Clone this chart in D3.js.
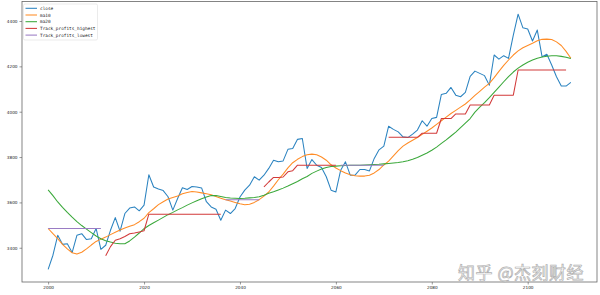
<!DOCTYPE html>
<html><head><meta charset="utf-8">
<script src="https://cdn.jsdelivr.net/npm/d3@7"></script>
<style>body{margin:0;background:#fff}</style>
</head><body><svg id="c" width="600" height="295"></svg>
<script>
const N = null;
const xStart = 2000;
const close = [3305,3367,3455,3415,3418,3379,3455,3462,3436,3440,
 3485,3393,3411,3477,3533,3473,3551,3575,3580,3563,
 3588,3722,3668,3659,3652,3625,3566,3617,3665,3657,
 3670,3668,3664,3603,3580,3570,3521,3566,3551,3573,
 3624,3654,3676,3713,3698,3720,3750,3786,3779,3783,
 3834,3838,3878,3882,3750,3789,3764,3754,3713,3654,
 3646,3742,3779,3720,3720,3745,3745,3739,3794,3832,
 3848,3936,3922,3911,3889,3886,3901,3919,3960,3936,
 3970,3975,4076,4081,4107,4073,4066,4085,4156,4179,
 4169,4159,4117,4250,4232,4247,4235,4338,4430,4370,
 4365,4312,4360,4242,4253,4206,4154,4113,4113,4129];
const ma10 = [3485,3462,3440,3415,3395,3378,3372,3380,3395,3412,
 3428,3438,3447,3458,3468,3478,3487,3495,3502,3515,
 3530,3555,3572,3590,3603,3615,3622,3628,3638,3644,
 3648,3646,3642,3638,3634,3626,3618,3612,3606,3600,
 3594,3590,3592,3600,3612,3628,3646,3672,3700,3725,
 3752,3775,3790,3802,3810,3813,3810,3800,3786,3766,
 3752,3740,3730,3722,3718,3716,3716,3720,3730,3745,
 3765,3782,3805,3828,3848,3862,3874,3886,3900,3914,
 3928,3944,3960,3976,3992,4006,4020,4034,4052,4072,
 4090,4108,4125,4150,4178,4204,4228,4250,4268,4282,
 4292,4302,4313,4319,4320,4318,4308,4292,4266,4236];
const ma20 = [3655,3630,3602,3578,3556,3535,3515,3498,3482,3467,
 3452,3440,3431,3425,3420,3418,3418,3430,3447,3465,
 3484,3498,3510,3522,3534,3546,3556,3567,3577,3588,
 3598,3607,3616,3624,3630,3630,3626,3622,3619,3618,
 3617,3618,3620,3622,3625,3632,3640,3647,3655,3663,
 3672,3682,3692,3704,3714,3728,3738,3747,3754,3758,
 3760,3762,3763,3764,3764,3764,3765,3766,3767,3768,
 3770,3772,3774,3776,3779,3784,3790,3798,3808,3818,
 3830,3844,3860,3876,3893,3910,3930,3950,3970,3998,
 4020,4040,4062,4085,4108,4132,4155,4175,4192,4206,
 4218,4228,4236,4241,4245,4247,4247,4244,4240,4235];
const trackHighest = [N,N,N,N,N,N,N,N,N,N,
 N,N,3365,3405,3433,3440,3450,3462,3465,3470,
 3475,3548,3548,3548,3548,3548,3548,3548,3548,3548,
 3548,3548,3548,3548,3548,3548,3548,N,N,N,
 N,N,N,N,N,3668,3690,3710,3710,3712,
 3735,3740,3764,3764,3764,3764,3764,3764,3764,3764,
 3764,N,N,N,N,N,N,N,N,N,
 N,3887,3887,3887,3887,3887,3887,3887,3905,3905,
 3905,3905,3970,3970,3970,3990,3990,3990,4030,4030,
 4030,4030,4030,4073,4073,4073,4073,4073,4184,4184,
 4184,4184,4184,4184,4184,4184,4184,4184,4184,N];
const trackLowest = [3485,3485,3485,3485,3485,3485,3485,3485,3485,3485,
 3485,3485,N,N,N,N,N,N,N,N,
 N,N,N,N,N,N,N,N,N,N,
 N,N,N,N,N,N,N,3612,3612,3612,
 3612,3612,3612,3612,3612,N,N,N,N,N,
 N,N,N,N,N,N,N,N,N,N,
 N,3764,3764,3764,3764,3764,3764,3764,3764,3764,
 3764,N,N,N,N,N,N,N,N,N,
 N,N,N,N,N,N,N,N,N,N,
 N,N,N,N,N,N,N,N,N,N,
 N,N,N,N,N,N,N,N,N,N];
const xTicks = [2000,2020,2040,2060,2080,2100];
const yTicks = [3400,3600,3800,4000,4200,4400];
const seriesNames = ["close","ma10","ma20","Track_profits_highest","Track_profits_lowest"];
const seriesColors = ["#2b83c0","#ff8c26","#3aa83a","#d23a3a","#9a7cc4"];
const watermark = "知乎 @杰刻财经";

const svg = d3.select("#c");
const L = 22, R = 597, T = 1.5, B = 282;
const x = d3.scaleLinear().domain([1994.55, 2114.45]).range([L, R]);
const y = d3.scaleLinear().domain([3249, 4486]).range([B, T]);

const allSeries = [close, ma10, ma20, trackHighest, trackLowest];
const line = d3.line()
  .defined(d => d.v != null)
  .x(d => x(d.x)).y(d => y(d.v));

const g = svg.append("g");
allSeries.forEach((arr, k) => {
  const pts = arr.map((v, i) => ({x: xStart + i, v}));
  g.append("path").datum(pts)
    .attr("fill", "none")
    .attr("stroke", seriesColors[k])
    .attr("stroke-width", 1.05)
    .attr("stroke-linejoin", "round")
    .attr("d", line);
});

// frame
svg.append("rect").attr("x", L).attr("y", T).attr("width", R - L).attr("height", B - T)
  .attr("fill", "none").attr("stroke", "#666").attr("stroke-width", 0.8);

// axes
const xAxis = d3.axisBottom(x).tickValues(xTicks).tickSize(2.5).tickPadding(2).tickFormat(d3.format("d"));
const yAxis = d3.axisLeft(y).tickValues(yTicks).tickSize(2.5).tickPadding(2).tickFormat(d3.format("d"));
const ax = svg.append("g").attr("transform", `translate(0,${B})`).call(xAxis);
const ay = svg.append("g").attr("transform", `translate(${L},0)`).call(yAxis);
[ax, ay].forEach(a => {
  a.select(".domain").remove();
  a.selectAll(".tick line").attr("stroke", "#555").attr("stroke-width", 0.6);
  a.selectAll(".tick text").attr("fill", "#222").style("font-family", "DejaVu Sans").style("font-size", "4.2px");
});

// legend
const lg = svg.append("g");
lg.append("rect").attr("x", 23.5).attr("y", 4).attr("width", 74).attr("height", 36).attr("rx", 1.5)
  .attr("fill", "#fff").attr("fill-opacity", 0.8).attr("stroke", "#ddd").attr("stroke-width", 0.6);
seriesNames.forEach((name, k) => {
  const yy = 8.3 + k * 6.7;
  lg.append("line").attr("x1", 25.5).attr("x2", 37).attr("y1", yy).attr("y2", yy)
    .attr("stroke", seriesColors[k]).attr("stroke-width", 1.05);
  lg.append("text").attr("x", 40).attr("y", yy).attr("dy", "0.35em")
    .style("font-family", "DejaVu Sans Mono").style("font-size", "4.4px").attr("fill", "#222").text(name);
});

// watermark
svg.append("text").attr("x", 584).attr("y", 279).attr("text-anchor", "end")
  .style("font-family", "Noto Sans CJK SC").style("font-size", "17px").style("letter-spacing", "0.5px")
  .attr("fill", "#fff").attr("fill-opacity", 0.9).attr("stroke", "#b0b0b0").attr("stroke-width", 0.7)
  .text(watermark);
</script></body></html>
